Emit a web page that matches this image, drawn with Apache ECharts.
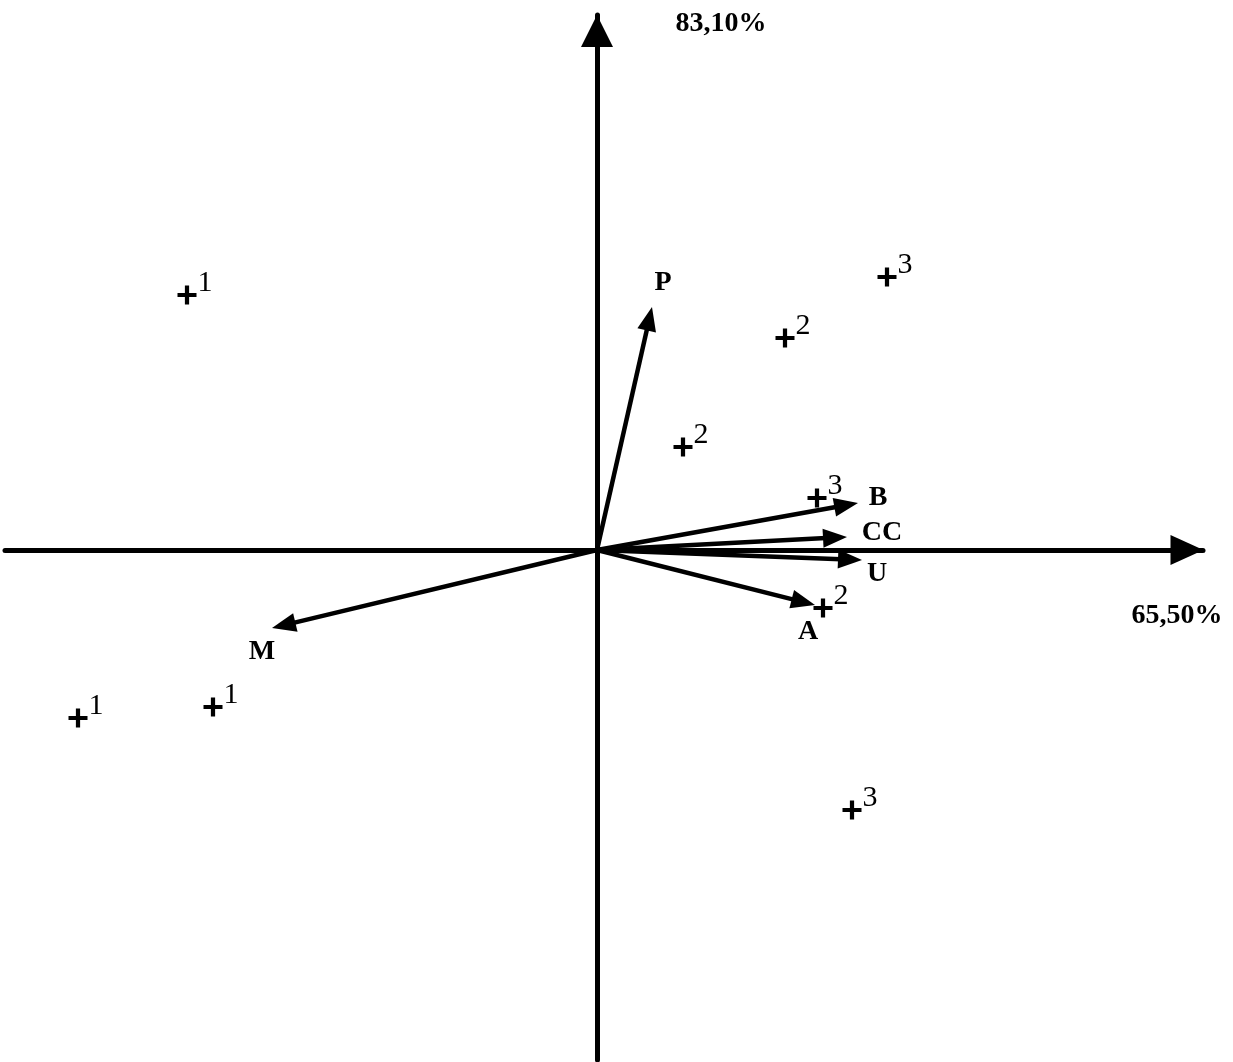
<!DOCTYPE html>
<html><head><meta charset="utf-8">
<script src="https://cdn.jsdelivr.net/npm/echarts@6/dist/echarts.min.js"></script>
<style>html,body{margin:0;padding:0;background:#fff}#c{width:1233px;height:1062px}</style>
</head><body><div id="c"></div>
<script>
// ---- data ----
const vectorNames = ['P', 'B', 'CC', 'U', 'A', 'M'];
const vectorX = [0.55, 2.61, 2.50, 2.65, 2.18, -3.25];
const vectorY = [2.43, 0.47, 0.13, -0.10, -0.55, -0.78];

const pointX = [-4.10, 2.90, 1.88, 0.86, 2.20, 2.26, -5.19, -3.84, 2.55];
const pointY = [2.55, 2.73, 2.12, 1.03, 0.52, -0.58, -1.68, -1.57, -2.60];
const pointGroup = ['1', '3', '2', '2', '3', '2', '1', '1', '3'];

const axisXName = '65,50%';
const axisYName = '83,10%';

// ---- layout (label placement per vector, in px) ----
const vectorLabelOffset = { P: [11, -24], B: [20, -5], CC: [35, -4], U: [15, 14], A: [-7, 27], M: [-10, 24] };

const FONT = '"Liberation Serif", "Times New Roman", serif';
const chart = echarts.init(document.getElementById('c'), null, { renderer: 'canvas' });

const axisCommon = {
  type: 'value',
  splitLine: { show: false },
  axisTick: { show: false },
  axisLabel: { show: false }
};

chart.setOption({
  animation: false,
  backgroundColor: '#fff',
  grid: { left: 5, right: 30, top: 15, bottom: 2, containLabel: false, outerBoundsMode: 'none' },
  xAxis: Object.assign({}, axisCommon, {
    min: -5.92, max: 6.06,
    axisLine: { onZero: true, lineStyle: { color: '#000', width: 5 },
      symbol: ['none', 'triangle'], symbolSize: [30, 33], symbolOffset: [0, -16] }
  }),
  yAxis: Object.assign({}, axisCommon, {
    min: -5.10, max: 5.35,
    axisLine: { onZero: true, lineStyle: { color: '#000', width: 5 },
      symbol: ['none', 'triangle'], symbolSize: [32, 32], symbolOffset: [0, -16] }
  }),
  graphic: [
    { type: 'text', x: 1177, y: 616, style: { text: axisXName, fontFamily: FONT, fontSize: 28, fontWeight: 'bold', fill: '#000', align: 'center', verticalAlign: 'middle' } },
    { type: 'text', x: 721, y: 24, style: { text: axisYName, fontFamily: FONT, fontSize: 28, fontWeight: 'bold', fill: '#000', align: 'center', verticalAlign: 'middle' } }
  ],
  series: [
    {
      type: 'custom',
      data: vectorX.map((x, i) => [x, vectorY[i]]),
      renderItem: function (params, api) {
        const o = api.coord([0, 0]);
        const t = api.coord([api.value(0), api.value(1)]);
        const dx = t[0] - o[0], dy = t[1] - o[1];
        const len = Math.hypot(dx, dy);
        const ux = dx / len, uy = dy / len;
        const L = 24, W = 19;
        const bx = t[0] - ux * L, by = t[1] - uy * L;
        const px = -uy, py = ux;
        const name = vectorNames[params.dataIndex];
        const off = vectorLabelOffset[name];
        return {
          type: 'group',
          children: [
            { type: 'line', shape: { x1: o[0], y1: o[1], x2: bx + ux * 3, y2: by + uy * 3 }, style: { stroke: '#000', lineWidth: 4.5 } },
            { type: 'polygon', shape: { points: [[t[0], t[1]], [bx + px * W / 2, by + py * W / 2], [bx - px * W / 2, by - py * W / 2]] }, style: { fill: '#000' } },
            { type: 'text', x: t[0] + off[0], y: t[1] + off[1], style: { text: name, fontFamily: FONT, fontSize: 28, fontWeight: 'bold', fill: '#000', align: 'center', verticalAlign: 'middle' } }
          ]
        };
      },
      z: 5
    },
    {
      type: 'scatter',
      data: pointX.map((x, i) => [x, pointY[i], pointGroup[i]]),
      symbol: 'path://M7,0H11V7H18V11H11V18H7V11H0V7H7Z',
      symbolSize: 19,
      itemStyle: { color: '#000', opacity: 1 },
      label: {
        show: true,
        formatter: p => p.value[2],
        position: 'inside',
        offset: [18, -12],
        fontFamily: FONT,
        fontSize: 30,
        color: '#000',
        opacity: 1
      },
      z: 6
    }
  ]
});
</script>
</body></html>
